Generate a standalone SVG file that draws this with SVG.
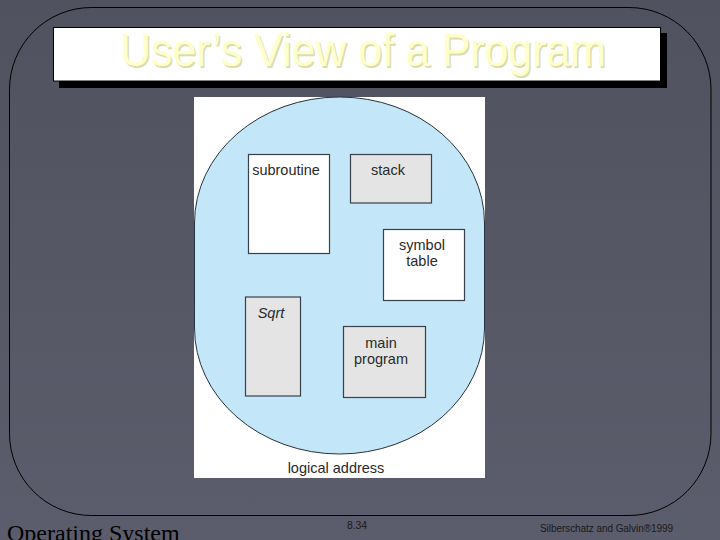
<svg xmlns="http://www.w3.org/2000/svg" width="720" height="540" viewBox="0 0 720 540">
<defs>
<linearGradient id="bg" x1="0" y1="0" x2="0" y2="1"><stop offset="0" stop-color="#50525f"/><stop offset="1" stop-color="#5b5d6c"/></linearGradient>
</defs>
<style>
.s{font-family:"Liberation Sans",Arial,sans-serif;fill:#2a2a2a;font-size:14.5px;text-anchor:middle}
.b{stroke:#39424c;stroke-width:1.2}
.g{fill:#e4e4e4}
.w{fill:#fff}
.t{font-family:"Liberation Sans",Arial,sans-serif;font-size:46px}
.f{font-family:"Liberation Sans",Arial,sans-serif;fill:#1a1a1a}
</style>
<rect width="720" height="540" fill="url(#bg)"/>
<rect id="frame" x="9.5" y="7.5" width="701.5" height="508" rx="82" ry="82" fill="none" stroke="#000" stroke-width="1"/>
<g id="title">
<rect x="59" y="33" width="608" height="55" fill="#000"/>
<rect x="53.5" y="27.5" width="607" height="53.5" fill="#fff" stroke="#000" stroke-width="1"/>
<text class="t" x="121.5" y="67.500" fill="#dcdcac" textLength="486" lengthAdjust="spacingAndGlyphs">User’s View of a Program</text>
<text class="t" x="120" y="66" fill="#ffffcc" textLength="486" lengthAdjust="spacingAndGlyphs">User’s View of a Program</text>
</g>
<rect x="194" y="97" width="291" height="381" fill="#fff"/>
<path id="space" d="M194.500 223A145 126 0 0 1 484.500 223V328A145 126 0 0 1 194.500 328Z" fill="#c4e6f9" stroke="#25323c" stroke-width="1"/>
<g id="subroutine"><rect class="b w" x="248.500" y="154.500" width="81" height="99"/><text class="s" x="286" y="175">subroutine</text></g>
<g id="stack"><rect class="b g" x="350.500" y="154.500" width="81" height="48.500"/><text class="s" x="388" y="175">stack</text></g>
<g id="symbol-table"><rect class="b w" x="383.500" y="229.500" width="81" height="71"/><text class="s" x="422" y="250">symbol</text><text class="s" x="422" y="266">table</text></g>
<g id="sqrt"><rect class="b g" x="245.500" y="297" width="55" height="99"/><text class="s" x="271" y="318" font-style="italic">Sqrt</text></g>
<g id="main-program"><rect class="b g" x="343.500" y="326.500" width="82" height="71"/><text class="s" x="381" y="348">main</text><text class="s" x="381" y="364">program</text></g>
<text class="s" x="336" y="473">logical address</text>
<text x="7" y="541" font-family="'Liberation Serif','Times New Roman',serif" font-size="24" fill="#000">Operating System</text>
<text class="f" x="347" y="529" font-size="10.500" textLength="20">8.34</text>
<text class="f" x="540" y="532" font-size="10" textLength="133">Silberschatz and Galvin®1999</text>
</svg>
